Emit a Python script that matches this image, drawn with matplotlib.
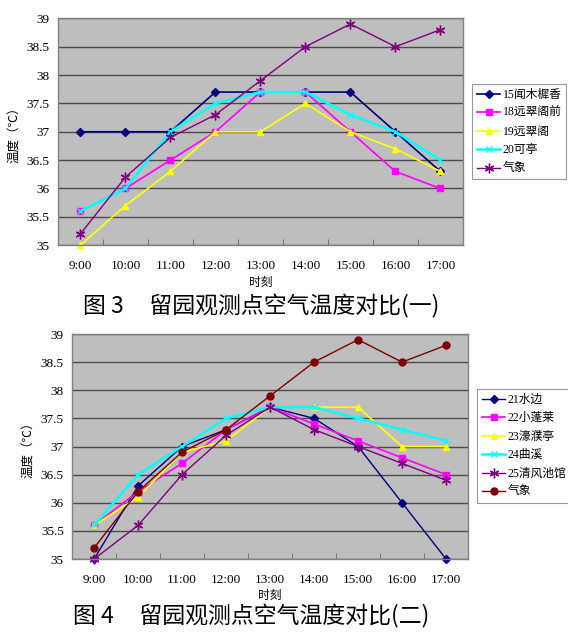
import matplotlib
matplotlib.use("Agg")
import matplotlib.pyplot as plt
import numpy as np

plt.rcParams['font.family'] = ['Liberation Serif', 'Noto Sans CJK SC', 'DejaVu Sans']

times = ["9:00", "10:00", "11:00", "12:00", "13:00", "14:00", "15:00", "16:00", "17:00"]
yticks = [35, 35.5, 36, 36.5, 37, 37.5, 38, 38.5, 39]
ytick_labels = ["35", "35.5", "36", "36.5", "37", "37.5", "38", "38.5", "39"]

# Figure 3
names1 = ["15闻木樨香", "18远翠阁前", "19远翠阁", "20可亭", "气象"]
s15 = [37.0, 37.0, 37.0, 37.7, 37.7, 37.7, 37.7, 37.0, 36.3]
s18 = [35.6, 36.0, 36.5, 37.0, 37.7, 37.7, 37.0, 36.3, 36.0]
s19 = [35.0, 35.7, 36.3, 37.0, 37.0, 37.5, 37.0, 36.7, 36.3]
s20 = [35.6, 36.0, 37.0, 37.5, 37.7, 37.7, 37.3, 37.0, 36.5]
met1 = [35.2, 36.2, 36.9, 37.3, 37.9, 38.5, 38.9, 38.5, 38.8]

# Figure 4
names2 = ["21水边", "22小蓬莱", "23濠濮亭", "24曲溪", "25清风池馆", "气象"]
s21 = [35.0, 36.3, 37.0, 37.3, 37.7, 37.5, 37.0, 36.0, 35.0]
s22 = [35.6, 36.2, 36.7, 37.3, 37.7, 37.4, 37.1, 36.8, 36.5]
s23 = [35.6, 36.1, 36.9, 37.1, 37.7, 37.7, 37.7, 37.0, 37.0]
s24 = [35.6, 36.5, 37.0, 37.5, 37.7, 37.7, 37.5, 37.3, 37.1]
s25 = [35.0, 35.6, 36.5, 37.2, 37.7, 37.3, 37.0, 36.7, 36.4]
met2 = [35.2, 36.2, 36.9, 37.3, 37.9, 38.5, 38.9, 38.5, 38.8]

star = (6, 2, 0)
styles1 = [
    dict(color="#000080", marker="D", ms=4, lw=1.2),
    dict(color="#FF00FF", marker="s", ms=4.5, lw=1.2),
    dict(color="#FFFF00", marker="^", ms=4.5, lw=1.2),
    dict(color="#00FFFF", marker="x", ms=4.5, lw=1.8),
    dict(color="#800080", marker=star, ms=7, lw=1.0),
]
styles2 = [
    dict(color="#000080", marker="D", ms=4, lw=1.0),
    dict(color="#FF00FF", marker="s", ms=4.5, lw=1.2),
    dict(color="#FFFF00", marker="^", ms=4.5, lw=1.2),
    dict(color="#00FFFF", marker="x", ms=4.5, lw=1.8),
    dict(color="#800080", marker=star, ms=7, lw=1.0),
    dict(color="#800000", marker="o", ms=5, lw=1.0),
]

fig = plt.figure(figsize=(5.68, 6.32), dpi=100)
fig.patch.set_facecolor("white")

ax1 = fig.add_axes([0.102, 0.612, 0.713, 0.359])
ax2 = fig.add_axes([0.127, 0.1155, 0.697, 0.356])

def style_axes(ax):
    ax.set_facecolor("#bebebe")
    ax.set_xlim(0, len(times))
    ax.set_ylim(35, 39)
    ax.set_yticks(yticks)
    ax.set_yticklabels(ytick_labels, fontsize=9.5)
    ax.set_xticks(np.arange(len(times)) + 0.5)
    ax.set_xticklabels(times, fontsize=9.5)
    ax.set_xticks(np.arange(len(times) + 1), minor=True)
    ax.tick_params(axis="x", which="major", length=0, pad=11)
    ax.tick_params(axis="x", which="minor", length=4, direction="in", color="#666666")
    ax.tick_params(axis="y", length=0, pad=6)
    ax.grid(axis="y", color="#4a4a4a", lw=1.0)
    ax.set_axisbelow(True)
    for sp in ax.spines.values():
        sp.set_color("#808080")
        sp.set_linewidth(1.0)
    ax.set_ylabel("温度（℃）", fontsize=9)
    ax.set_xlabel("时刻", fontsize=8.5, labelpad=3)

x = np.arange(len(times)) + 0.5
for name, vals, st in zip(names1, [s15, s18, s19, s20, met1], styles1):
    ax1.plot(x, vals, label=name, color=st["color"], marker=st["marker"],
             ms=st["ms"], lw=st["lw"], mec=st["color"], mfc=st["color"], clip_on=False)
for name, vals, st in zip(names2, [s21, s22, s23, s24, s25, met2], styles2):
    ax2.plot(x, vals, label=name, color=st["color"], marker=st["marker"],
             ms=st["ms"], lw=st["lw"], mec=st["color"], mfc=st["color"], clip_on=False)

style_axes(ax1)
style_axes(ax2)

leg_kw = dict(loc="upper left", fontsize=8.5, frameon=True, fancybox=False,
              edgecolor="#808080", handlelength=2.0, handletextpad=0.2,
              borderpad=0.4, labelspacing=0.55, borderaxespad=0)
leg1 = fig.legend(*ax1.get_legend_handles_labels(), bbox_to_anchor=(0.831, 0.867), **leg_kw)
leg2 = fig.legend(*ax2.get_legend_handles_labels(), bbox_to_anchor=(0.84, 0.3845), **leg_kw)
for leg in (leg1, leg2):
    leg.get_frame().set_linewidth(0.8)

fig.text(0.46, 0.516, "图 3     留园观测点空气温度对比(一)", ha="center", va="center",
         fontsize=16.5, family=["Noto Sans CJK SC", "DejaVu Sans"])
fig.text(0.442, 0.024, "图 4     留园观测点空气温度对比(二)", ha="center", va="center",
         fontsize=16.5, family=["Noto Sans CJK SC", "DejaVu Sans"])

fig.savefig("out.png", dpi=100, facecolor="white")
